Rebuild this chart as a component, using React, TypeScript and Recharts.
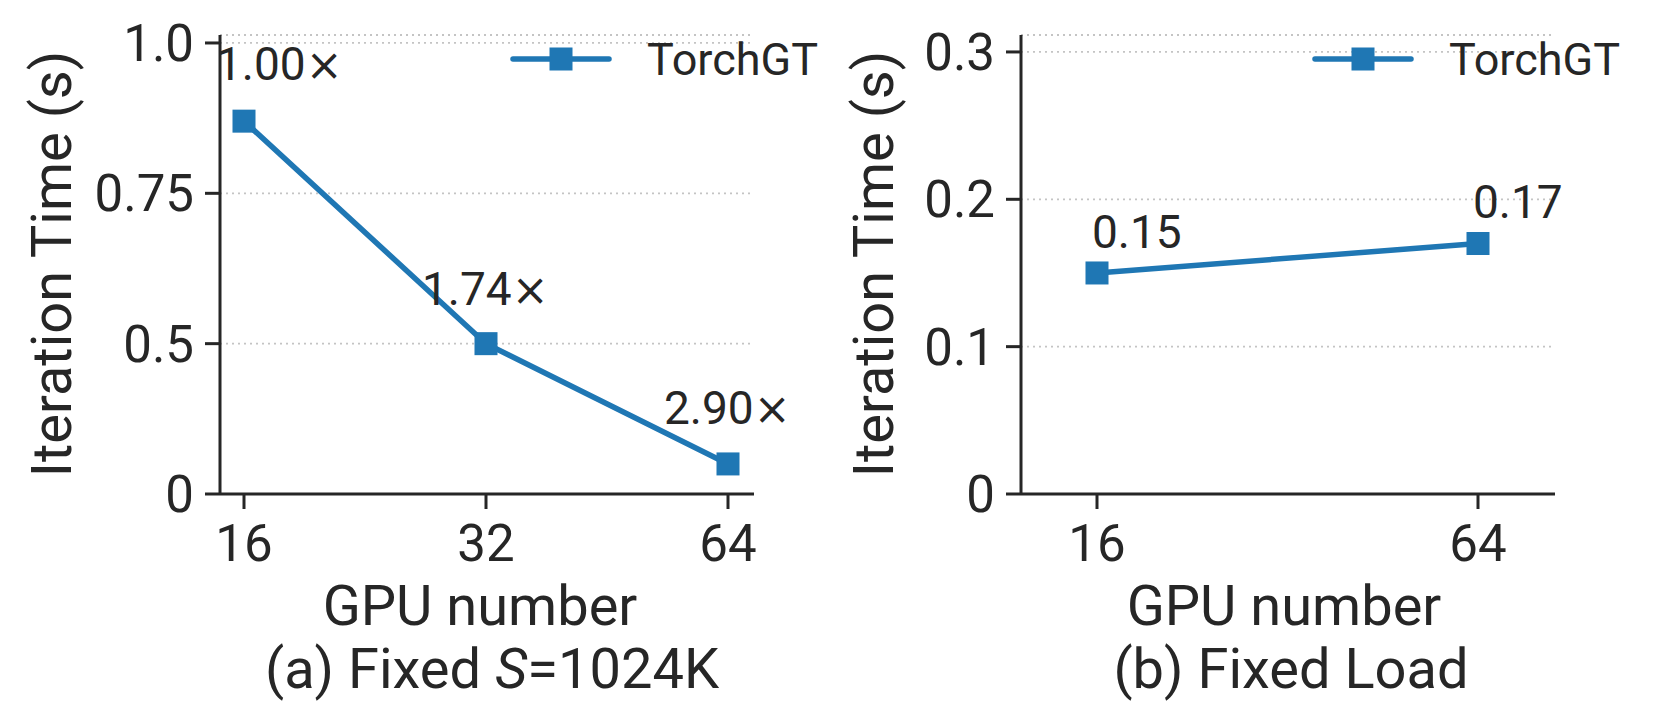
import React from 'react';
import { LineChart, Line, XAxis, YAxis, CartesianGrid, LabelList } from 'recharts';

// (a) Fixed S=1024K
const gpusA = ['16', '32', '64'];
const timeA = [0.87, 0.5, 0.1];
const speedupA = ['1.00×', '1.74×', '2.90×'];
const tickLabelsA = ['0', '0.5', '0.75', '1.0'];

// (b) Fixed Load
const gpusB = ['16', '64'];
const timeB = [0.15, 0.17];
const labelB = ['0.15', '0.17'];
const ticksB = [0, 0.1, 0.2, 0.3];

const BLUE = '#1f77b4';
const INK = '#262626';
const FONT = 'Roboto, "Noto Sans", sans-serif';

// left panel axis is uneven: 0 -> 0.5 -> 0.75 -> 1.0 at equal steps
const brokenAxis = (v: number) => (v <= 0.5 ? v / 0.5 : 1 + (v - 0.5) / 0.25);

const dataA = gpusA.map((g, i) => ({ gpu: g, pos: brokenAxis(timeA[i]), label: speedupA[i] }));
const dataB = gpusB.map((g, i) => ({ gpu: g, time: timeB[i], label: labelB[i] }));

// label offsets from their point (text start, baseline)
const offA = [[-28, -41], [-64, -39], [-64, -40]];
const offB = [[-5, -25], [-5, -26]];

const Y_W = 100;
const X_H = 80;

const axisProps = {
  stroke: INK,
  strokeWidth: 3,
  axisLine: { stroke: INK, strokeWidth: 3 },
  tickLine: { stroke: INK, strokeWidth: 3 },
  tickSize: 15,
};

const SquareDot = (props: any) => {
  const { cx, cy, index } = props;
  return <rect key={`dot-${index}`} x={cx - 11.5} y={cy - 11.5} width={23} height={23} fill={BLUE} />;
};

const makeLabel = (offsets: number[][]) => (props: any) => {
  const { x, y, index, value } = props;
  const [dx, dy] = offsets[index] || [0, 0];
  const s = String(value);
  const times = s.endsWith('×');
  return (
    <text key={`lbl-${index}`} x={x + dx} y={y + dy} fill={INK} fontSize={46} fontFamily={FONT} textAnchor="start">
      {times ? s.slice(0, -1) : s}
      {times && <tspan fontFamily="DejaVu Sans" fontSize={44}>×</tspan>}
    </text>
  );
};

const LegendItem: React.FC<{ x: number }> = ({ x }) => (
  <g>
    <line x1={x} y1={59} x2={x + 96} y2={59} stroke={BLUE} strokeWidth={5.5} strokeLinecap="round" />
    <rect x={x + 48 - 11.5} y={59 - 11.5} width={23} height={23} fill={BLUE} />
    <text x={x + 134} y={75} fill={INK} fontSize={45} fontFamily={FONT}>TorchGT</text>
  </g>
);

export default function App() {
  return (
    <div style={{ position: 'absolute', left: 0, top: 0, width: 1661, height: 727, background: '#fff', fontFamily: FONT }}>
      <div style={{ position: 'absolute', left: 0, top: 0 }}>
        <LineChart width={830} height={727} data={dataA} margin={{ top: 35, right: 76, bottom: 233 - X_H, left: 220 - Y_W }}>
          <CartesianGrid vertical={false} stroke="#c4c4c4" strokeWidth={1.8} strokeDasharray="2 4" />
          <XAxis dataKey="gpu" height={X_H} padding={{ left: 24, right: 26 }} tickMargin={16}
            tick={{ fontSize: 51, fill: INK, fontFamily: FONT }} {...axisProps} />
          <YAxis type="number" domain={[0, 3.053]} ticks={[0, 1, 2, 3]} width={Y_W} tickMargin={11}
            tickFormatter={(v: number) => tickLabelsA[v] ?? ''}
            tick={{ fontSize: 51, fill: INK, fontFamily: FONT }} {...axisProps} />
          <Line dataKey="pos" stroke={BLUE} strokeWidth={5.5} dot={SquareDot} activeDot={false} isAnimationActive={false}>
            <LabelList dataKey="label" content={makeLabel(offA)} />
          </Line>
        </LineChart>
      </div>
      <div style={{ position: 'absolute', left: 830, top: 0 }}>
        <LineChart width={831} height={727} data={dataB} margin={{ top: 35, right: 106, bottom: 233 - X_H, left: 191 - Y_W }}>
          <CartesianGrid vertical={false} stroke="#c4c4c4" strokeWidth={1.8} strokeDasharray="2 4" />
          <XAxis dataKey="gpu" height={X_H} padding={{ left: 76, right: 77 }} tickMargin={16}
            tick={{ fontSize: 51, fill: INK, fontFamily: FONT }} {...axisProps} />
          <YAxis type="number" domain={[0, 0.3115]} ticks={ticksB} width={Y_W} tickMargin={11}
            tickFormatter={(v: number) => (v === 0 ? '0' : v.toFixed(1))}
            tick={{ fontSize: 51, fill: INK, fontFamily: FONT }} {...axisProps} />
          <Line dataKey="time" stroke={BLUE} strokeWidth={5.5} dot={SquareDot} activeDot={false} isAnimationActive={false}>
            <LabelList dataKey="label" content={makeLabel(offB)} />
          </Line>
        </LineChart>
      </div>
      <svg width={1661} height={727} style={{ position: 'absolute', left: 0, top: 0, pointerEvents: 'none' }}>
        <LegendItem x={513} />
        <LegendItem x={1315} />
        <text x={71} y={264} transform="rotate(-90 71 264)" textAnchor="middle" fontSize={56} fill={INK} fontFamily={FONT}>Iteration Time (s)</text>
        <text x={893} y={264} transform="rotate(-90 893 264)" textAnchor="middle" fontSize={56} fill={INK} fontFamily={FONT}>Iteration Time (s)</text>
        <text x={480} y={625} textAnchor="middle" fontSize={56} fill={INK} fontFamily={FONT}>GPU number</text>
        <text x={1284} y={625} textAnchor="middle" fontSize={56} fill={INK} fontFamily={FONT}>GPU number</text>
        <text x={492} y={688} textAnchor="middle" fontSize={56} fill={INK} fontFamily={FONT}>
          (a) Fixed <tspan fontStyle="italic">S</tspan>=1024K
        </text>
        <text x={1291} y={688} textAnchor="middle" fontSize={56} fill={INK} fontFamily={FONT}>(b) Fixed Load</text>
      </svg>
    </div>
  );
}
